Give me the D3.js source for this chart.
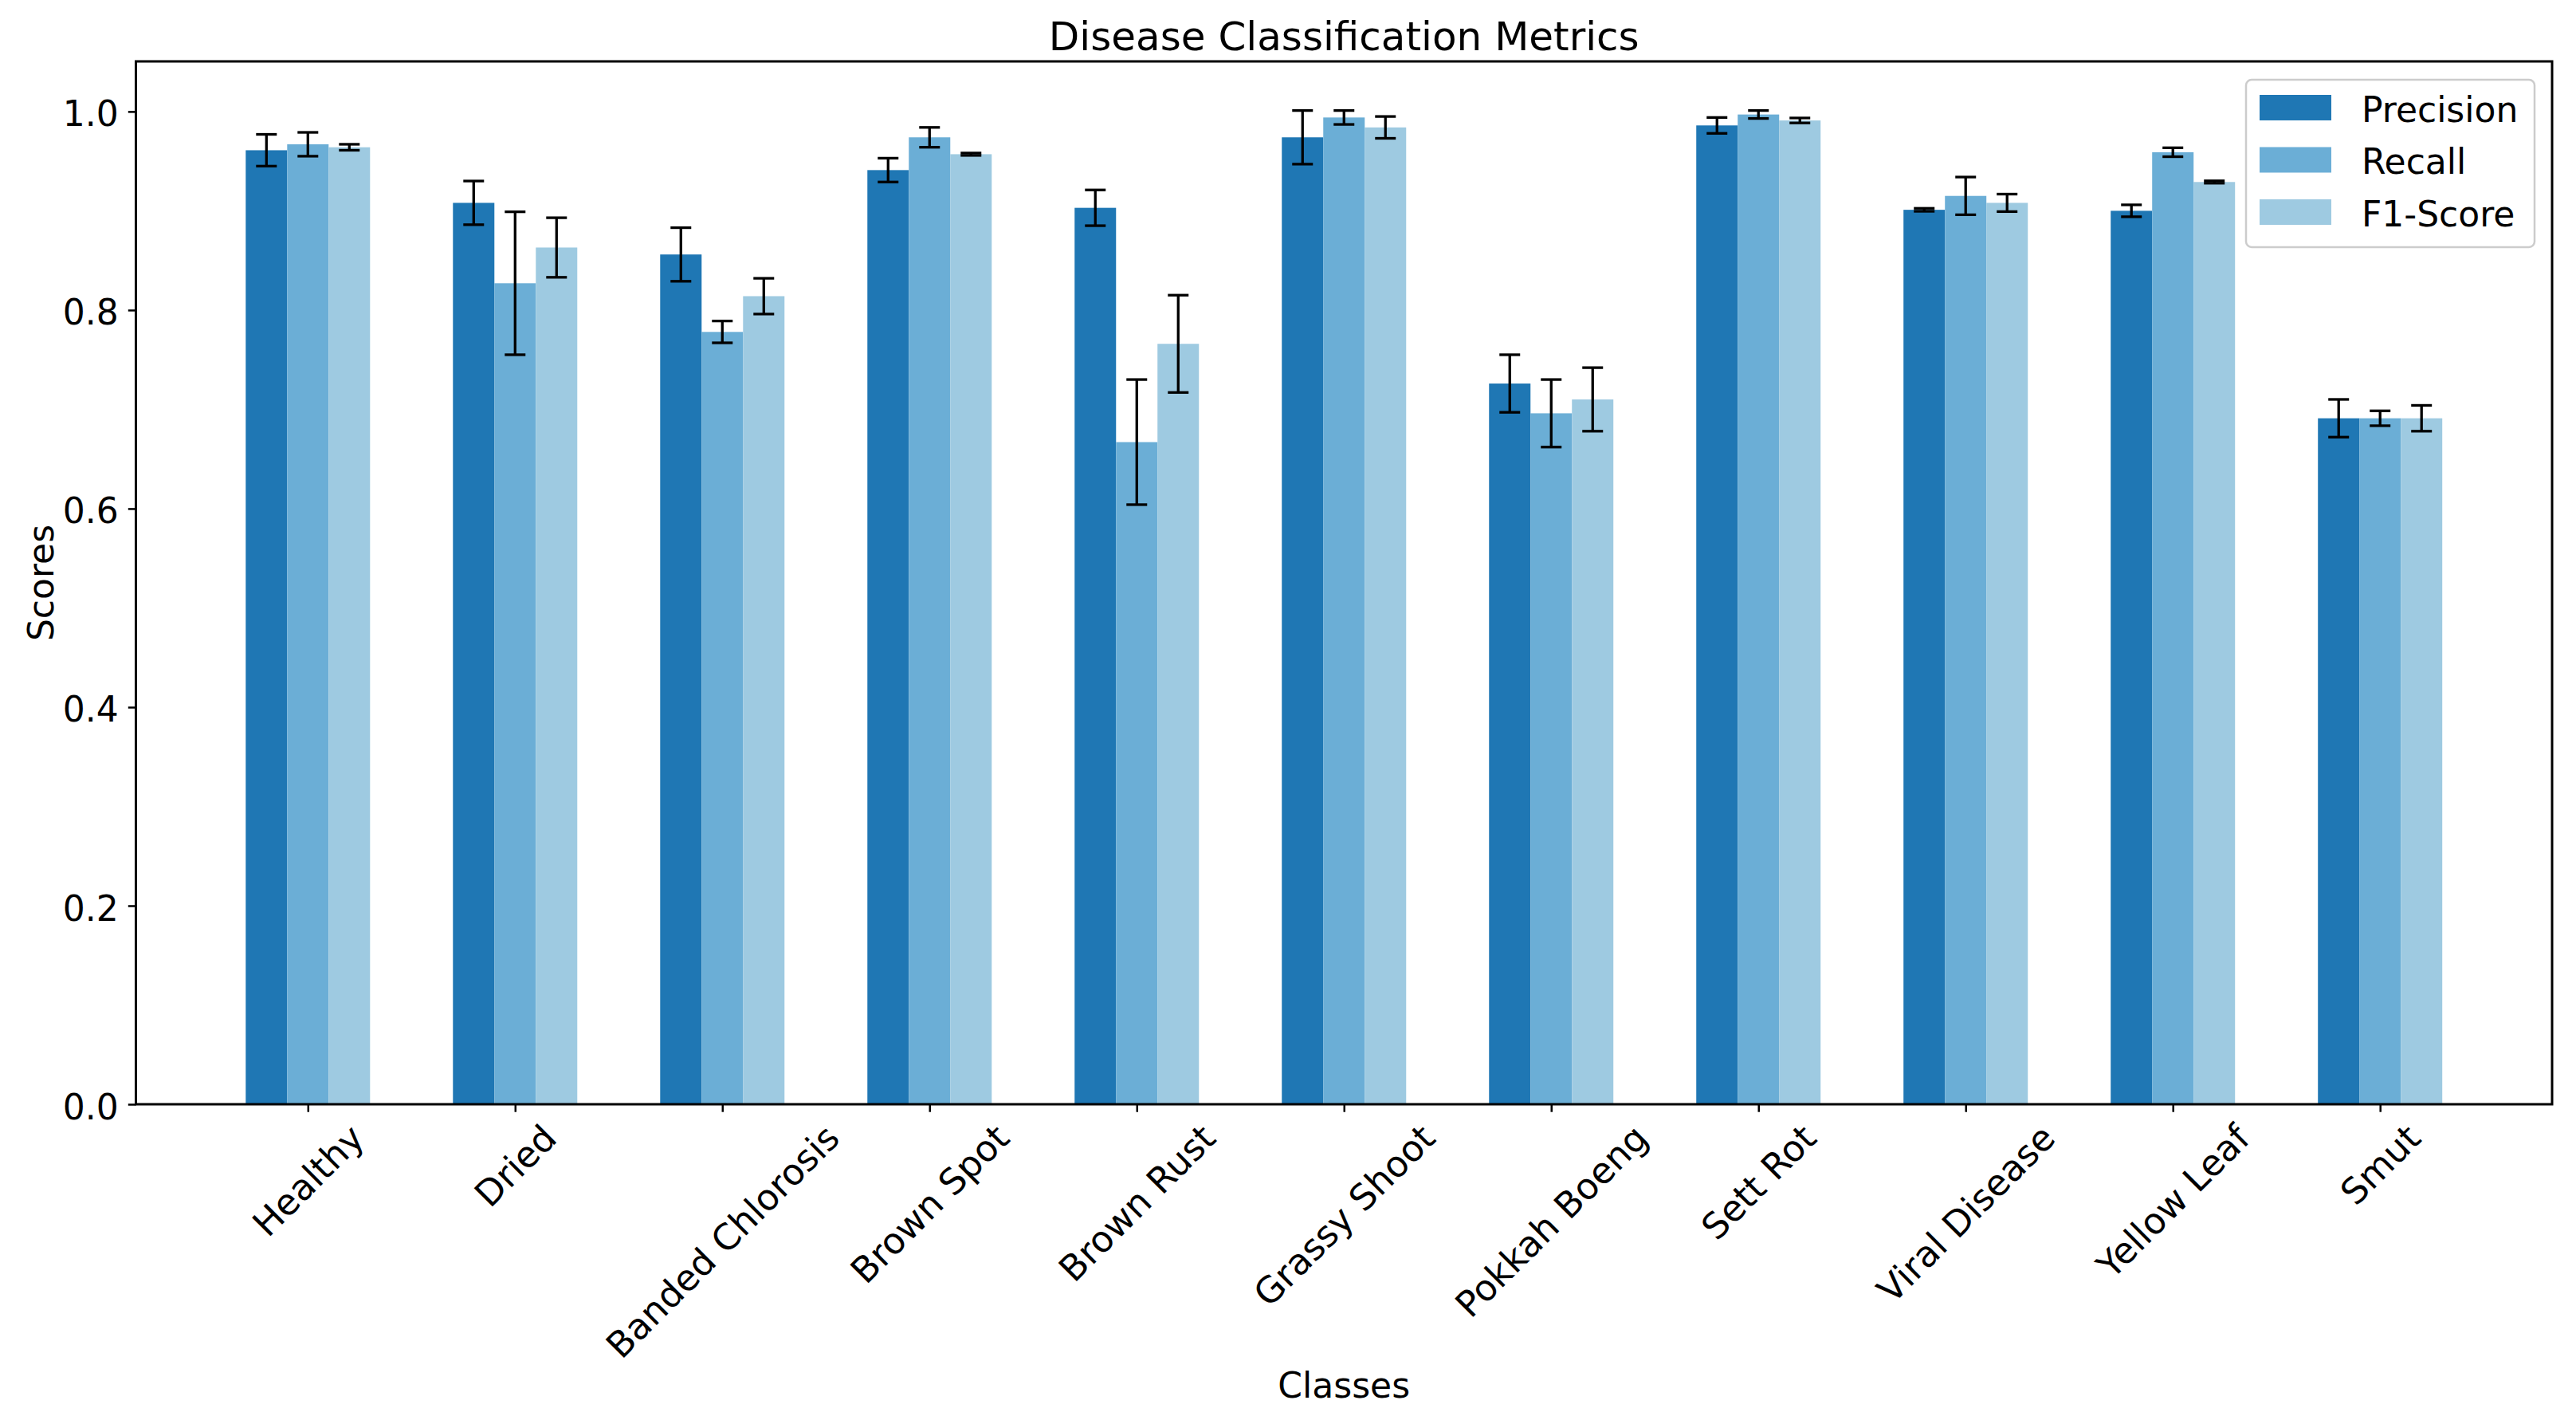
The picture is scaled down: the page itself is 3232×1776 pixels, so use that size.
<!DOCTYPE html>
<html>
<head>
<meta charset="utf-8">
<script src="https://cdn.jsdelivr.net/npm/d3@7"></script>
<style>
body { margin: 0; background: #fff; }
text { font-family: "DejaVu Sans"; fill: #000; }
</style>
</head>
<body>
<script>
// data
var classes = ["Healthy", "Dried", "Banded Chlorosis", "Brown Spot", "Brown Rust", "Grassy Shoot",
  "Pokkah Boeng", "Sett Rot", "Viral Disease", "Yellow Leaf", "Smut"];
var metrics = ["Precision", "Recall", "F1-Score"];
var precision = [0.961, 0.908, 0.856, 0.941, 0.903, 0.974, 0.726, 0.986, 0.901, 0.900, 0.691];
var recall    = [0.967, 0.827, 0.778, 0.974, 0.667, 0.994, 0.696, 0.997, 0.915, 0.959, 0.691];
var f1        = [0.964, 0.863, 0.814, 0.957, 0.766, 0.984, 0.710, 0.991, 0.908, 0.929, 0.691];
var precisionErr = [0.016, 0.022, 0.027, 0.012, 0.018, 0.027, 0.029, 0.008, 0.0015, 0.006, 0.019];
var recallErr    = [0.012, 0.072, 0.011, 0.010, 0.063, 0.007, 0.034, 0.004, 0.019, 0.0045, 0.0075];
var f1Err        = [0.003, 0.030, 0.018, 0.0012, 0.049, 0.011, 0.032, 0.0025, 0.0088, 0.0012, 0.013];
var yTicks = [0, 0.2, 0.4, 0.6, 0.8, 1.0];
var colors = ["#1f77b4", "#6baed6", "#9ecae1"];

var W = 3232, H = 1776;
// plot box (window.top is reserved, so prefixed names)
var axLeft = 170.5, axRight = 3202, axTop = 77, axBottom = 1385;
var xFs = 45, yFs = 44, labelFs = 44, tickLen = 9.7, tickPad = 11;

var svg = d3.select("body")
  .append("svg")
  .attr("width", W)
  .attr("height", H);

// x in matplotlib style: index positions, 5% margin
var x = d3.scaleLinear().domain([-0.83, classes.length - 1 + 0.83]).range([axLeft, axRight]);
var y = d3.scaleLinear().domain([0, 1.0505]).range([axBottom, axTop]);
var barW = x(0.2) - x(0);

var series = [
  {name: metrics[0], values: precision, errs: precisionErr, color: colors[0], offset: -0.2},
  {name: metrics[1], values: recall, errs: recallErr, color: colors[1], offset: 0},
  {name: metrics[2], values: f1, errs: f1Err, color: colors[2], offset: 0.2}
];

// bars
series.forEach(function(s) {
  svg.append("g").selectAll("rect")
    .data(s.values)
    .enter()
    .append("rect")
    .attr("x", function(d, i) { return x(i + s.offset) - barW / 2; })
    .attr("width", barW)
    .attr("y", function(d) { return y(d); })
    .attr("height", function(d) { return y(0) - y(d); })
    .attr("fill", s.color);
});

// error bars on top
series.forEach(function(s) {
  var g = svg.append("g").attr("stroke", "#000").attr("stroke-width", 3.3);
  s.values.forEach(function(v, i) {
    var cx = x(i + s.offset), e = s.errs[i];
    g.append("line").attr("x1", cx).attr("x2", cx).attr("y1", y(v - e)).attr("y2", y(v + e));
    [v - e, v + e].forEach(function(c) {
      g.append("line").attr("x1", cx - 13).attr("x2", cx + 13).attr("y1", y(c)).attr("y2", y(c));
    });
  });
});

// y axis
var yAxis = svg.append("g")
  .attr("transform", "translate(" + axLeft + ",0)")
  .call(d3.axisLeft(y).tickValues(yTicks).tickFormat(d3.format(".1f"))
    .tickSize(tickLen).tickPadding(12).tickSizeOuter(0));
yAxis.select(".domain").remove();
yAxis.selectAll(".tick line").attr("stroke", "#000").attr("stroke-width", 2.5);
yAxis.selectAll(".tick text")
  .attr("font-size", yFs)
  .attr("font-family", "DejaVu Sans")
  .attr("dy", "0.41em");

// x axis, labels rotated 45 and centred under the tick like matplotlib
var xAxis = svg.append("g")
  .attr("transform", "translate(0," + axBottom + ")")
  .call(d3.axisBottom(x).tickValues(d3.range(classes.length))
    .tickFormat(function(i) { return classes[i]; })
    .tickSize(tickLen).tickSizeOuter(0));
xAxis.select(".domain").remove();
xAxis.selectAll(".tick line").attr("stroke", "#000").attr("stroke-width", 2.5);
xAxis.selectAll(".tick text")
  .attr("font-size", xFs)
  .attr("font-family", "DejaVu Sans")
  .each(function() {
    var w = this.getComputedTextLength();
    var h = 1.164 * xFs;
    var half = (w + h) * Math.SQRT1_2 / 2;
    d3.select(this)
      .attr("text-anchor", "middle")
      .attr("x", 0)
      .attr("y", 0.346 * xFs)
      .attr("dy", null)
      .attr("transform", "translate(0," + (tickLen + tickPad - 5 + half) + ") rotate(-45)");
  });

// frame
svg.append("rect")
  .attr("x", axLeft).attr("y", axTop)
  .attr("width", axRight - axLeft).attr("height", axBottom - axTop)
  .attr("fill", "none").attr("stroke", "#000").attr("stroke-width", 3);

// title and axis labels
svg.append("text")
  .attr("x", (axLeft + axRight) / 2).attr("y", 62.5)
  .attr("text-anchor", "middle").attr("font-size", 50)
  .text("Disease Classification Metrics");

svg.append("text")
  .attr("x", (axLeft + axRight) / 2).attr("y", 1753)
  .attr("text-anchor", "middle").attr("font-size", labelFs)
  .text("Classes");

svg.append("text")
  .attr("transform", "translate(67," + (axTop + axBottom) / 2 + ") rotate(-90)")
  .attr("text-anchor", "middle").attr("font-size", labelFs)
  .text("Scores");

// legend
var legend = svg.append("g");
legend.append("rect")
  .attr("x", 2818).attr("y", 100).attr("width", 362).attr("height", 210).attr("rx", 7)
  .attr("fill", "#fff").attr("fill-opacity", 0.8)
  .attr("stroke", "#cccccc").attr("stroke-width", 2.5);
var items = legend.selectAll("g.item")
  .data(series)
  .enter()
  .append("g")
  .attr("class", "item")
  .attr("transform", function(d, i) { return "translate(2835," + (119 + i * 65.5) + ")"; });
items.append("rect")
  .attr("width", 90).attr("height", 32)
  .attr("fill", function(d) { return d.color; });
items.append("text")
  .attr("x", 128).attr("y", 33.5)
  .attr("font-size", 44)
  .text(function(d) { return d.name; });
</script>
</body>
</html>
